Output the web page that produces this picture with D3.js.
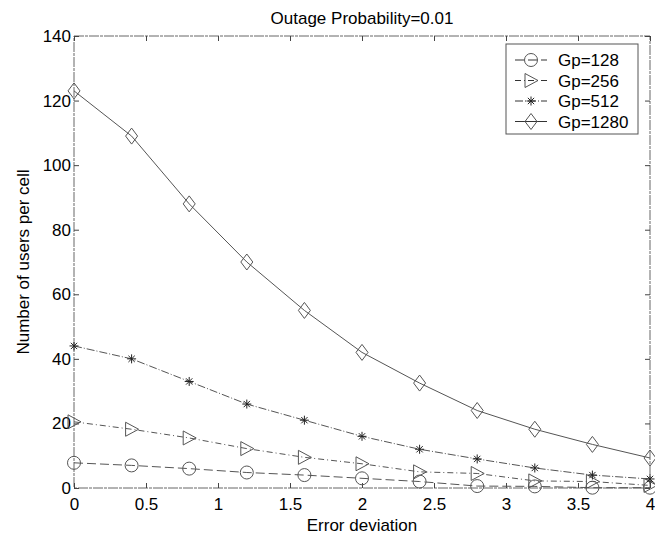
<!DOCTYPE html>
<html><head><meta charset="utf-8">
<script src="https://cdn.jsdelivr.net/npm/d3@7"></script>
<style>body{margin:0;background:#fff}text{font-family:"Liberation Sans",Arial,sans-serif}</style>
</head><body><svg id="c" width="655" height="540"></svg>
<script>
const xValues = [0, 0.4, 0.8, 1.2, 1.6, 2.0, 2.4, 2.8, 3.2, 3.6, 4.0];
const seriesNames = ["Gp=128", "Gp=256", "Gp=512", "Gp=1280"];
const gp128 = [7.8, 7.0, 6.0, 4.8, 4.0, 3.0, 2.0, 0.6, 0.5, 0.1, 0.1];
const gp256 = [20.5, 18.2, 15.5, 12.2, 9.5, 7.5, 5.0, 4.5, 2.2, 2.0, 0.8];
const gp512 = [44, 40, 33, 26, 21, 16, 12, 9, 6.2, 4, 2.8];
const gp1280 = [123, 109, 88, 70, 55, 42, 32.5, 24, 18.2, 13.5, 9.3];
const xTicks = [0, 0.5, 1, 1.5, 2, 2.5, 3, 3.5, 4];
const yTicks = [0, 20, 40, 60, 80, 100, 120, 140];
const titleText = "Outage Probability=0.01";
const xLabel = "Error deviation";
const yLabel = "Number of users per cell";

const svg = d3.select("#c");
const L = 74, R = 650, T = 36, B = 488;
const FS = "17px";
const x = d3.scaleLinear().domain([0, 4]).range([L, R]);
const y = d3.scaleLinear().domain([0, 140]).range([B, T]);

const series = [
  {name: seriesNames[0], vals: gp128, marker: "circle", dash: "9,4"},
  {name: seriesNames[1], vals: gp256, marker: "triangle", dash: "6,3,1,3"},
  {name: seriesNames[2], vals: gp512, marker: "star", dash: "8,2,1,2"},
  {name: seriesNames[3], vals: gp1280, marker: "diamond", dash: null}
];
const col = "#555";

// frame
svg.append("rect").attr("x", L).attr("y", T).attr("width", R - L).attr("height", B - T)
  .attr("fill", "none").attr("stroke", "#666").attr("stroke-width", 1).attr("stroke-dasharray", "10,1,3,1");

// axes (inward ticks)
const xa = svg.append("g").attr("transform", `translate(0,${B})`)
  .call(d3.axisBottom(x).tickValues(xTicks).tickSize(-5).tickPadding(10).tickFormat(d3.format("")));
const xt = svg.append("g").attr("transform", `translate(0,${T})`)
  .call(d3.axisTop(x).tickValues(xTicks).tickSize(-5).tickFormat(""));
const ya = svg.append("g").attr("transform", `translate(${L},0)`)
  .call(d3.axisLeft(y).tickValues(yTicks).tickSize(-5).tickPadding(3));
const yr = svg.append("g").attr("transform", `translate(${R},0)`)
  .call(d3.axisRight(y).tickValues(yTicks).tickSize(-5).tickFormat(""));
[xa, xt, ya, yr].forEach(g => {
  g.select(".domain").remove();
  g.selectAll("line").attr("stroke", "#444");
  g.selectAll("text").attr("fill", "#000").style("font-size", FS);
});

// lines
const line = d3.line().x((d, i) => x(xValues[i])).y(d => y(d));
series.forEach(s => {
  svg.append("path").datum(s.vals).attr("d", line).attr("fill", "none")
    .attr("stroke", col).attr("stroke-width", 1)
    .attr("stroke-dasharray", s.dash);
});

function drawMarker(g, type, cx, cy) {
  if (type === "circle") {
    g.append("circle").attr("cx", cx).attr("cy", cy).attr("r", 6.5).attr("fill", "none").attr("stroke", col);
  } else if (type === "triangle") {
    g.append("path").attr("d", `M${cx - 6},${cy - 7}L${cx + 7},${cy}L${cx - 6},${cy + 7}Z`).attr("fill", "none").attr("stroke", col);
  } else if (type === "diamond") {
    g.append("path").attr("d", `M${cx},${cy - 8}L${cx + 6},${cy}L${cx},${cy + 8}L${cx - 6},${cy}Z`).attr("fill", "none").attr("stroke", col);
  } else if (type === "star") {
    const r = 4.5;
    const p = `M${cx - r},${cy}L${cx + r},${cy}M${cx},${cy - r}L${cx},${cy + r}` +
      `M${cx - r * .7},${cy - r * .7}L${cx + r * .7},${cy + r * .7}M${cx - r * .7},${cy + r * .7}L${cx + r * .7},${cy - r * .7}`;
    g.append("path").attr("d", p).attr("fill", "none").attr("stroke", "#222");
  }
}
const mg = svg.append("g");
series.forEach(s => s.vals.forEach((v, i) => drawMarker(mg, s.marker, x(xValues[i]), y(v))));

// legend
const lg = svg.append("g");
lg.append("rect").attr("x", 506).attr("y", 44).attr("width", 132).attr("height", 90)
  .attr("fill", "#fff").attr("stroke", "#555");
series.forEach((s, i) => {
  const ly = 60 + i * 20.5;
  lg.append("line").attr("x1", 515).attr("x2", 547).attr("y1", ly).attr("y2", ly)
    .attr("stroke", "#333").attr("stroke-dasharray", s.dash);
  drawMarker(lg, s.marker, 531, ly);
  lg.append("text").attr("x", 558).attr("y", ly + 6).text(s.name).style("font-size", FS);
});

// titles
svg.append("text").attr("x", (L + R) / 2).attr("y", 24).attr("text-anchor", "middle")
  .style("font-size", FS).text(titleText);
svg.append("text").attr("x", (L + R) / 2).attr("y", 531).attr("text-anchor", "middle")
  .style("font-size", FS).text(xLabel);
svg.append("text").attr("transform", `translate(29,${(T + B) / 2}) rotate(-90)`).attr("text-anchor", "middle")
  .style("font-size", FS).text(yLabel);
</script></body></html>
